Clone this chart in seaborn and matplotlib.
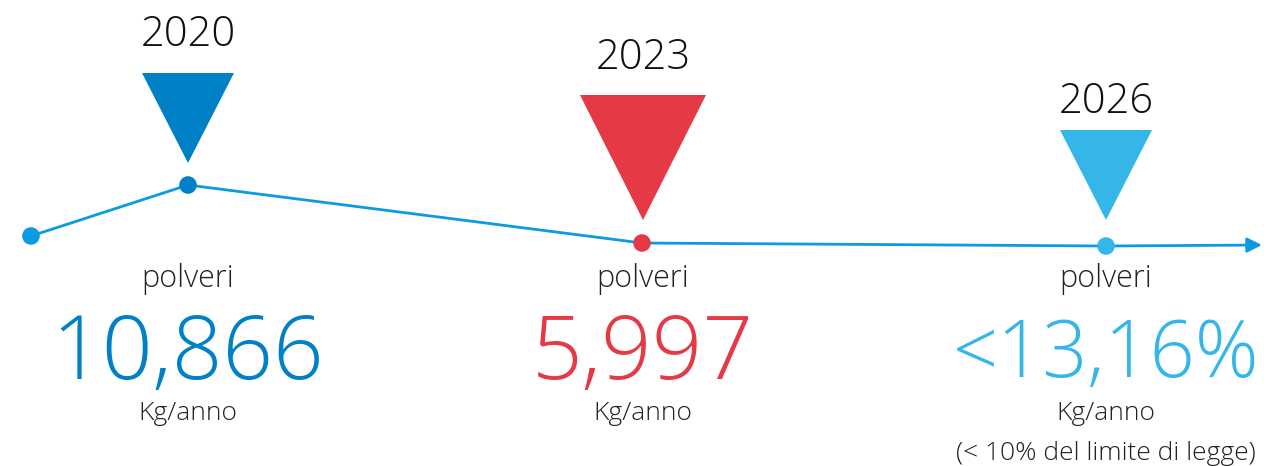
import numpy as np
import pandas as pd
import matplotlib
matplotlib.use("Agg")
import matplotlib.pyplot as plt
import seaborn as sns

# timeline points (image pixel coordinates)
point_x = [31, 188, 642, 1106]
point_y = [236, 185, 243, 246]
point_colors = ["#0A9BE0", "#0080C6", "#E63946", "#35B6E9"]
arrow_end = (1262, 245)

years = ["2020", "2023", "2026"]
year_colors = ["#0080C6", "#E63946", "#35B6E9"]
tri_x = [188, 643, 1106]
tri_top = [73, 95, 130]
tri_tip = [163, 220, 220]
tri_half = [46, 63, 46]
year_y = [35, 58, 102]

values = ["10,866", "5,997", "<13,16%"]
value_size = [64, 64, 57]
label_top = "polveri"
unit = "Kg/anno"
note = "(< 10% del limite di legge)"

line_color = "#0A9BE0"

sns.set_theme(style="white")
plt.rcParams['font.family'] = ['Open Sans', 'DejaVu Sans']

fig = plt.figure(figsize=(12.64, 4.66), dpi=100)
ax = fig.add_axes([0, 0, 1, 1])
ax.set_xlim(0, 1264)
ax.set_ylim(466, 0)
ax.axis("off")

df = pd.DataFrame({"x": point_x, "y": point_y})
sns.lineplot(data=df, x="x", y="y", ax=ax, color=line_color, lw=2, sort=False)
ax.annotate("", xy=arrow_end, xytext=(point_x[-1], point_y[-1]),
            arrowprops=dict(arrowstyle="-|>", color=line_color, lw=2,
                            mutation_scale=22, shrinkA=0, shrinkB=0))
sns.scatterplot(data=df, x="x", y="y", ax=ax, hue="x", palette=point_colors,
                s=160, linewidth=0, legend=False, zorder=5)

for i in range(3):
    x = tri_x[i]
    ax.fill([x - tri_half[i], x + tri_half[i], x], [tri_top[i], tri_top[i], tri_tip[i]],
            color=year_colors[i], lw=0)
    ax.text(x, year_y[i], years[i], ha="center", va="center", fontsize=30,
            color="#111111", fontweight="light")
    ax.text(x, 279, label_top, ha="center", va="center", fontsize=22,
            color="#222222", fontweight="light")
    ax.text(x, 356, values[i], ha="center", va="center", fontsize=value_size[i],
            color=year_colors[i], fontweight="light")
    ax.text(x, 413, unit, ha="center", va="center", fontsize=19,
            color="#222222", fontweight="light")

ax.text(tri_x[2], 453, note, ha="center", va="center", fontsize=19,
        color="#222222", fontweight="light")

fig.savefig("out.png", dpi=100)
